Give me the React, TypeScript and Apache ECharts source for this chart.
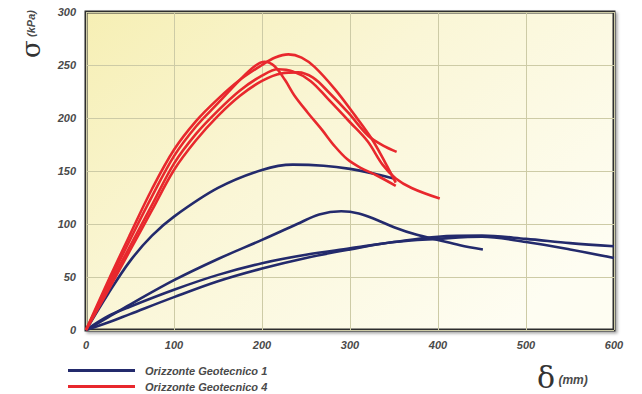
import React, { useEffect, useRef } from "react";
import * as echarts from "echarts";

const xTicks = [0, 100, 200, 300, 400, 500, 600];
const yTicks = [0, 50, 100, 150, 200, 250, 300];
const legendNames = ["Orizzonte Geotecnico 1", "Orizzonte Geotecnico 4"];

// Orizzonte Geotecnico 1 (blue)
const blueA = [[0, 0], [25, 34], [50, 65], [75, 89], [100, 107], [150, 134], [200, 151], [235, 156], [270, 155], [300, 152], [330, 147], [350, 143]];
const blueB = [[0, 0], [25, 12], [50, 24], [100, 47], [150, 67], [200, 85], [240, 100], [265, 109], [290, 112], [310, 110], [330, 104], [350, 97], [375, 90], [400, 85], [425, 80], [451, 76]];
const blueC = [[0, 0], [25, 13], [50, 22], [100, 38], [150, 52], [200, 63], [250, 71], [300, 77], [350, 83], [400, 88], [450, 89], [500, 86], [550, 82], [600, 79]];
const blueD = [[0, 0], [25, 7], [50, 15], [100, 31], [150, 46], [200, 58], [250, 68], [300, 76], [350, 83], [400, 86], [450, 88], [500, 83], [550, 76], [600, 68]];

// Orizzonte Geotecnico 4 (red)
const redA = [[0, 0], [25, 46], [50, 90], [75, 133], [100, 170], [125, 197], [150, 218], [175, 236], [200, 250], [215, 257], [230, 260], [245, 257], [260, 248], [283, 227], [306, 202], [325, 180], [340, 158], [352, 139]];
const redB = [[0, 0], [25, 43], [50, 85], [75, 126], [100, 164], [125, 192], [150, 214], [175, 236], [192, 249], [203, 253], [214, 249], [226, 236], [237, 221], [252, 205], [268, 189], [282, 174], [297, 161], [312, 153], [330, 146], [352, 136]];
const redC = [[0, 0], [25, 37], [50, 75], [75, 113], [100, 151], [125, 179], [150, 202], [175, 221], [200, 235], [222, 242], [241, 243], [258, 238], [275, 225], [298, 205], [321, 183], [340, 173], [353, 168]];
const redD = [[0, 0], [25, 40], [50, 79], [75, 118], [100, 157], [125, 185], [150, 207], [175, 226], [200, 240], [218, 246], [235, 244], [255, 235], [275, 218], [300, 196], [320, 178], [337, 156], [352, 143], [370, 134], [402, 124]];

const blueCurves = [blueA, blueB, blueC, blueD];
const redCurves = [redA, redB, redC, redD];

const BLUE = "#232a6c";
const RED = "#e8282d";
const LABEL = "#4a4a4a";
const FONT = "'Liberation Sans', Arial, sans-serif";

export default function App() {
  const ref = useRef<HTMLDivElement>(null);

  useEffect(() => {
    document.body.style.margin = "0";
    const chart = echarts.init(ref.current!, null, { renderer: "svg" });
    const mk = (data: number[][], name: string, color: string) => ({
      type: "line",
      name,
      data,
      smooth: 0.35,
      showSymbol: false,
      symbol: "none",
      lineStyle: { color, width: 2.6 },
      itemStyle: { color },
    });
    const series = [
      ...blueCurves.map((d) => mk(d, legendNames[0], BLUE)),
      ...redCurves.map((d) => mk(d, legendNames[1], RED)),
    ];
    chart.setOption({
      animation: false,
      grid: {
        left: 86,
        right: 28,
        top: 12,
        bottom: 64,
        show: true,
        borderColor: "#2e2e2e",
        borderWidth: 3,
        shadowColor: "rgba(0,0,0,0.35)",
        shadowBlur: 3,
        shadowOffsetX: 2,
        shadowOffsetY: 2,
        backgroundColor: {
          type: "linear",
          x: 0,
          y: 0,
          x2: 1,
          y2: 0.7,
          colorStops: [
            { offset: 0, color: "#f6efb4" },
            { offset: 0.45, color: "#faf6d6" },
            { offset: 1, color: "#fefdf2" },
          ],
        },
      },
      xAxis: {
        type: "value",
        min: xTicks[0],
        max: xTicks[xTicks.length - 1],
        interval: 100,
        axisLine: { show: false },
        axisTick: { show: false },
        splitLine: { show: true, lineStyle: { color: "#cdcba6", width: 1 } },
        axisLabel: {
          color: LABEL,
          fontFamily: FONT,
          fontWeight: "bold",
          fontStyle: "italic",
          fontSize: 11,
          margin: 9,
        },
      },
      yAxis: {
        type: "value",
        min: yTicks[0],
        max: yTicks[yTicks.length - 1],
        interval: 50,
        axisLine: { show: false },
        axisTick: { show: false },
        splitLine: { show: true, lineStyle: { color: "#cdcba6", width: 1 } },
        axisLabel: {
          color: LABEL,
          fontFamily: FONT,
          fontWeight: "bold",
          fontStyle: "italic",
          fontSize: 11,
          margin: 10,
        },
      },
      legend: {
        data: legendNames,
        orient: "vertical",
        left: 68,
        top: 364,
        padding: 0,
        icon: "rect",
        itemWidth: 67,
        itemHeight: 3,
        itemGap: 3,
        textStyle: {
          color: LABEL,
          fontFamily: FONT,
          fontWeight: "bold",
          fontStyle: "italic",
          fontSize: 11,
          lineHeight: 13,
          padding: [0, 0, 0, 5],
        },
      },
      graphic: [
        {
          type: "text",
          x: 31,
          y: 34,
          rotation: Math.PI / 2,
          style: {
            text: "{s|σ} {u|(kPa)}",
            align: "center",
            verticalAlign: "middle",
            rich: {
              s: { fontFamily: "'DejaVu Serif', 'Liberation Serif', serif", fontSize: 26, fill: "#333" },
              u: { fontFamily: FONT, fontSize: 11, fontWeight: "bold", fontStyle: "italic", fill: LABEL },
            },
          },
        },
        {
          type: "text",
          x: 537,
          y: 377,
          style: {
            text: "{d|δ} {u|(mm)}",
            align: "left",
            verticalAlign: "middle",
            rich: {
              d: { fontFamily: "'DejaVu Serif', 'Liberation Serif', serif", fontSize: 30, fill: "#333" },
              u: { fontFamily: FONT, fontSize: 12, fontWeight: "bold", fontStyle: "italic", fill: LABEL, padding: [6, 0, 0, 0] },
            },
          },
        },
      ],
      series,
    });
    return () => chart.dispose();
  }, []);

  return <div ref={ref} style={{ width: 642, height: 394 }} />;
}
